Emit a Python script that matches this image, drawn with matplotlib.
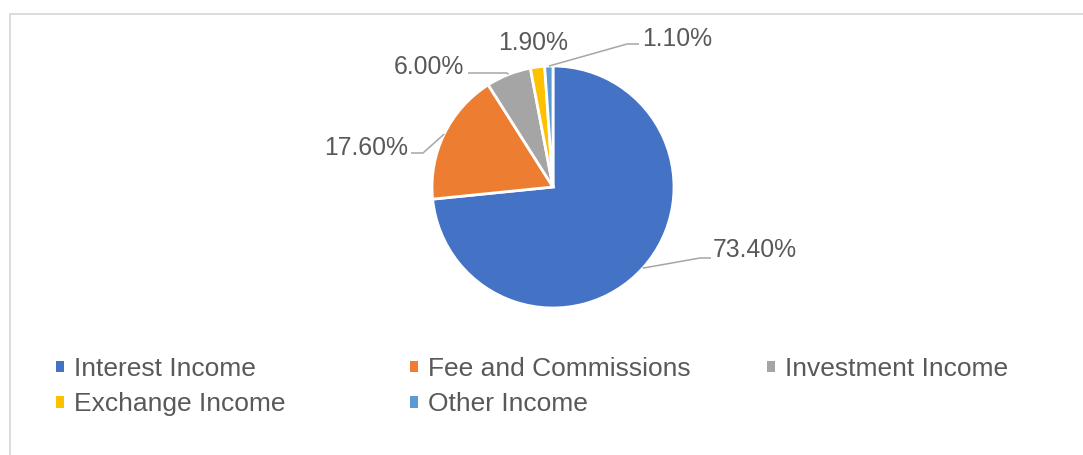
import numpy as np
import matplotlib
matplotlib.use("Agg")
import matplotlib.pyplot as plt
from matplotlib.patches import Patch, Rectangle
from matplotlib.legend import Legend

categories = ["Interest Income", "Fee and Commissions", "Investment Income",
              "Exchange Income", "Other Income"]
values = [73.4, 17.6, 6.0, 1.9, 1.1]
labels = ["73.40%", "17.60%", "6.00%", "1.90%", "1.10%"]
colors = ["#4472C4", "#ED7D31", "#A5A5A5", "#FFC000", "#5B9BD5"]

plt.rcParams['font.family'] = ['Liberation Sans', 'DejaVu Sans']
W, H = 1083, 455
fig = plt.figure(figsize=(W / 100, H / 100), dpi=100)
ax = fig.add_axes([0, 0, 1, 1])

cx, cy, R = 553, H - 187, 121
wedges, _ = ax.pie(values, colors=colors, startangle=90, counterclock=False,
                   center=(cx, cy), radius=R,
                   wedgeprops=dict(edgecolor="white", linewidth=2.0))
ax.set_xlim(0, W)
ax.set_ylim(0, H)
ax.axis("off")

def py(y):
    return H - y

text_color = "#595959"
line_color = "#A6A6A6"
lab_fs = 17.8

# label layout: (text x, text y, ha, leader path points after edge point)
layout = [
    (713, 250, "left", [(700, 258), (711, 258)]),
    (408, 148, "right", [(423, 153), (411, 153)]),
    (464, 67, "right", [(507, 73), (468, 73)]),
    (533, 43, "center", None),
    (642, 39, "left", [(627, 44), (639, 44)]),
]
for w, lab, (tx, ty, ha, path) in zip(wedges, labels, layout):
    mid = np.deg2rad((w.theta1 + w.theta2) / 2)
    ex, ey = cx + R * np.cos(mid), cy + R * np.sin(mid)
    if path:
        xs = [ex] + [p[0] for p in path]
        ys = [ey] + [py(p[1]) for p in path]
        ax.plot(xs, ys, color=line_color, lw=1.1, solid_capstyle="butt")
    ax.text(tx, py(ty), lab, ha=ha, va="center", fontsize=lab_fs, color=text_color)

# border (top & left visible)
ax.add_patch(Rectangle((9.5, -20), 1200, py(13.5) + 20, fill=False,
                       edgecolor="#D9D9D9", lw=1.3, clip_on=True))

handles = [Patch(facecolor=c, edgecolor="none") for c in colors]
cols = [[0, 3], [1, 4], [2]]
col_x = [56, 410, 767]
for idxs, x0 in zip(cols, col_x):
    leg = Legend(ax, [handles[i] for i in idxs], [categories[i] for i in idxs],
                 loc="upper left", bbox_to_anchor=(x0, py(357)),
                 bbox_transform=ax.transData, frameon=False, fontsize=19,
                 handlelength=0.3, handleheight=0.3, handletextpad=0.38,
                 labelspacing=0.43, borderpad=0, borderaxespad=0,
                 labelcolor=text_color)
    ax.add_artist(leg)

fig.savefig("out.png", dpi=100)
